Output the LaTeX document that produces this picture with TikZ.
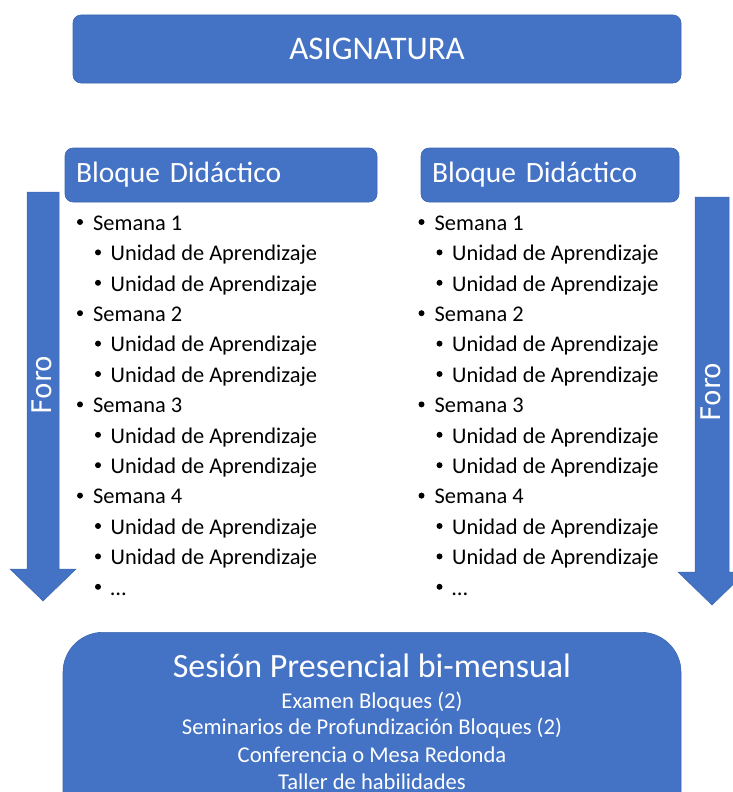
\documentclass[tikz,border=0pt]{standalone}
\usepackage{fontspec}
\setmainfont{Carlito}
\newfontfamily\forofont{DejaVu Sans}
\usetikzlibrary{positioning}

\definecolor{azul}{HTML}{4472C4}
\definecolor{azulborde}{HTML}{3C66B2}

\tikzset{
	caja/.style={fill=azul, draw=azulborde, line width=0.6pt, rounded corners=8pt, text=white, inner sep=0pt},
	flecha/.style={fill=azul, draw=azulborde, line width=0.5pt},
	item/.style={anchor=mid west, inner sep=0pt, font=\fontsize{22.4}{26}\selectfont},
	punto/.style={fill=black, circle, inner sep=0pt, minimum size=6pt},
	blanco/.style={text=white, inner sep=0pt}
}

\begin{document}
\begin{tikzpicture}[x=1pt,y=-1pt]
	\useasboundingbox (0,0) rectangle (733,792);
	
	%ASIGNATURA
	\node[caja, minimum width=608pt, minimum height=68pt, font=\fontsize{33}{38}\selectfont] (asignatura) at (377,49) {ASIGNATURA};
	
	%BLOQUES
	\node[caja, minimum width=312pt, minimum height=54pt, text width=290pt, align=left, font=\fontsize{29.5}{32}\selectfont] (bloqueA) at (221,175) {Bloque Didáctico};
	\node[caja, minimum width=258pt, minimum height=54pt, text width=236pt, align=left, font=\fontsize{29.5}{32}\selectfont] (bloqueB) at (550,175) {Bloque Didáctico};
	
	%FLECHAS
	\fill[flecha] (27,192)--(59,192)--(59,569)--(76,569)--(43,601)--(10,569)--(27,569)--cycle;
	\fill[flecha] (695,197)--(729,197)--(729,572)--(746,572)--(712,605)--(678,572)--(695,572)--cycle;
	\node[blanco, rotate=90, font=\forofont\fontsize{27}{30}\selectfont] (foroA) at (42,385) {Foro};
	\node[blanco, rotate=90, font=\forofont\fontsize{27}{30}\selectfont] (foroB) at (711,392) {Foro};
	
	%LISTAS
	\foreach \lado/\j in {0/A,341.5/B}
	\foreach \n/\texto [count=\i from 0] in {0/Semana 1,1/Unidad de Aprendizaje,1/Unidad de Aprendizaje,
		0/Semana 2,1/Unidad de Aprendizaje,1/Unidad de Aprendizaje,
		0/Semana 3,1/Unidad de Aprendizaje,1/Unidad de Aprendizaje,
		0/Semana 4,1/Unidad de Aprendizaje,1/Unidad de Aprendizaje,1/…}
	{
		\node[punto] (punto\j-\i) at (\lado+80+18*\n,222+\i*30.4) {};
		\node[item] (item\j-\i) at (\lado+93+17.5*\n,228+\i*30.4) {\texto};
	}
	
	%SESION
	\node[caja, rounded corners=40pt, minimum width=618pt, minimum height=208pt, anchor=north] (sesion) at (372,632) {};
	\node[blanco, font=\fontsize{34}{40}\selectfont] (titulo) at (372,666) {Sesión Presencial bi-mensual};
	\foreach \texto [count=\k from 0] in {Examen Bloques (2),Seminarios de Profundización Bloques (2),Conferencia o Mesa Redonda,Taller de habilidades}
	\node[blanco, font=\fontsize{22.6}{26}\selectfont] (actividad-\k) at (372,702+\k*26.5) {\texto};
\end{tikzpicture}
\end{document}
